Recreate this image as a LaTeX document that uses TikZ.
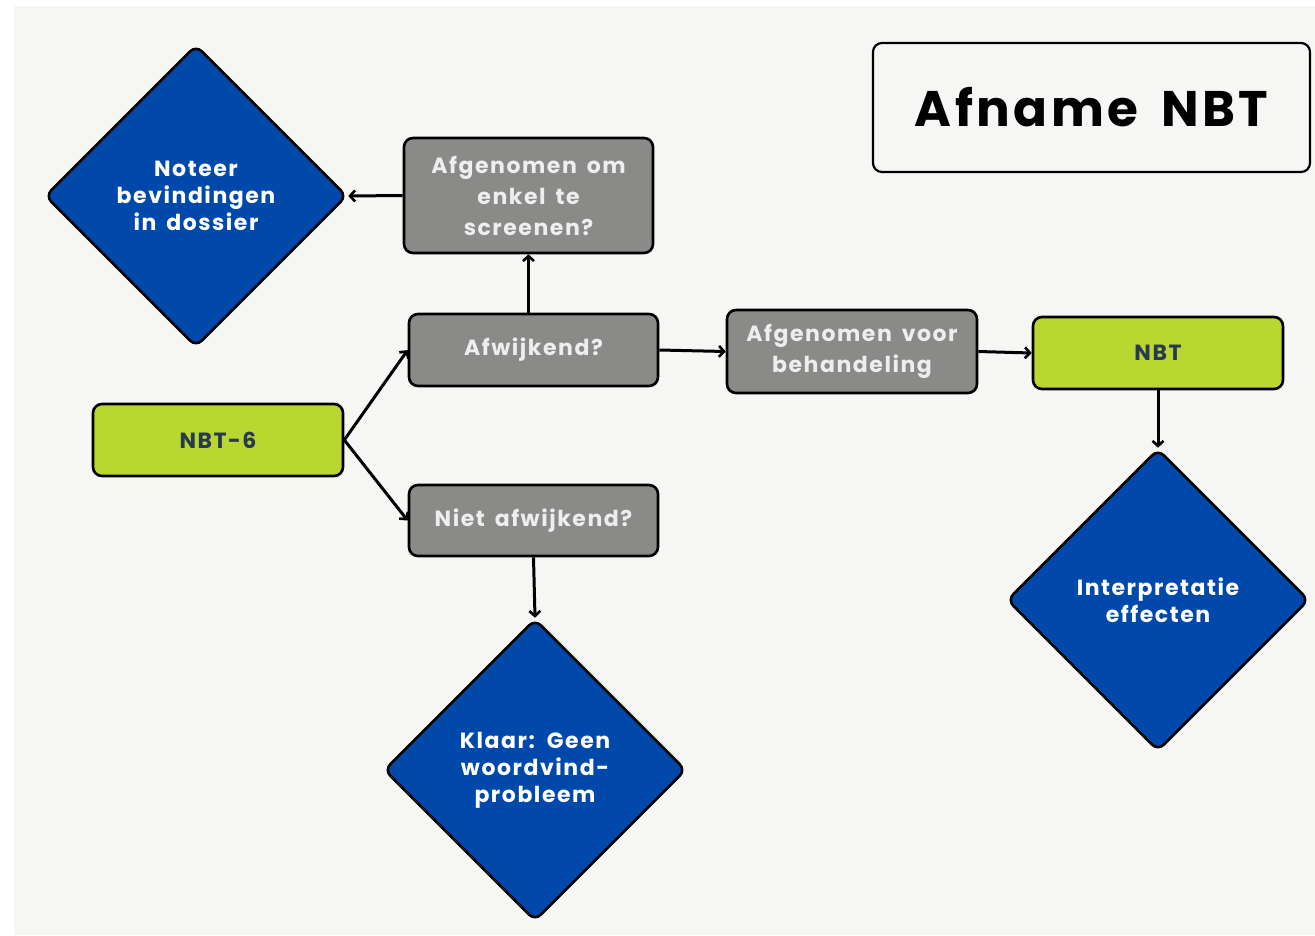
\documentclass[tikz,border=0pt]{standalone}
\usepackage{fontspec}
\setmainfont{Poppins}[LetterSpace=7, WordSpace=1.6]
\usetikzlibrary{shapes.geometric,arrows.meta}
\definecolor{bgfill}{HTML}{F6F6F4}
\definecolor{boxgray}{HTML}{8A8A89}
\definecolor{boxtext}{HTML}{EEEEEE}
\definecolor{lime}{HTML}{B9D631}
\definecolor{navy}{HTML}{2A3A4E}
\definecolor{deepblue}{HTML}{0049AB}
\tikzset{
  base/.style={draw=black, line width=2.6pt, rounded corners=9pt, inner sep=0pt, align=center,
    font=\bfseries\fontsize{22}{31}\selectfont},
  graybox/.style={base, fill=boxgray, text=boxtext, minimum width=249pt},
  greenbox/.style={base, fill=lime, text=navy, minimum width=250pt, minimum height=72pt},
  choice/.style={diamond, draw=black, line width=2.6pt, rounded corners=8pt, fill=deepblue,
    text=white, inner sep=0pt, minimum width=302pt, minimum height=302pt, align=center,
    font=\bfseries\fontsize{22}{27}\selectfont},
  titlebox/.style={draw=black, line width=2.2pt, rounded corners=9pt, fill=bgfill,
    minimum width=437pt, minimum height=129pt, font=\bfseries\fontsize{50}{60}\selectfont},
  link/.style={draw=black, line width=3pt, -{Straight Barb[length=5pt,width=11pt,line width=2.6pt]}}
}
\begin{document}
\begin{tikzpicture}[x=1pt,y=-1pt]
\useasboundingbox (0,0) rectangle (1315,935);
\fill[white] (0,0) rectangle (1315,935);
\fill[bgfill] (14,6) rectangle (1315,935);

\node[titlebox] (title) at (1091.5,107.5) {Afname NBT};

\node[choice] (noteer) at (196,196) {Noteer\\bevindingen\\in dossier};
\node[graybox, minimum height=115pt] (screen) at (528.5,195.5) {Afgenomen om\\enkel te\\screenen?};
\node[graybox, minimum height=72pt] (afw) at (533.5,350) {Afwijkend?};
\node[greenbox] (nbtzes) at (218,440) {NBT-6};
\node[graybox, minimum height=71pt] (niet) at (533.5,520.5) {Niet afwijkend?};
\node[choice] (klaar) at (535,770) {Klaar: Geen\\woordvind-\\probleem};
\node[graybox, minimum width=250pt, minimum height=83pt] (beh) at (852,351.5) {Afgenomen voor\\behandeling};
\node[greenbox] (nbt) at (1158,353) {NBT};
\node[choice] (interp) at (1158,600) {Interpretatie\\effecten};

\draw[link] (screen.west) -- (noteer.east);
\draw[link] (afw.north -| screen.south) -- (screen.south);
\draw[link] (nbtzes.east) -- (afw.west);
\draw[link] (nbtzes.east) -- (niet.west);
\draw[link] (niet.south) -- (klaar.north);
\draw[link] (afw.east) -- (beh.west);
\draw[link] (beh.east) -- (nbt.west);
\draw[link] (nbt.south) -- (interp.north);
\end{tikzpicture}
\end{document}
